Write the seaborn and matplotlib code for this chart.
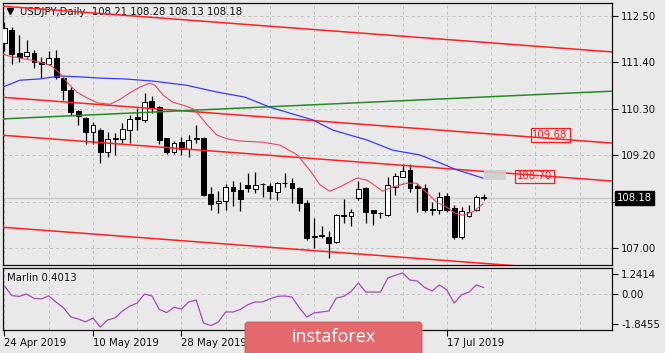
import numpy as np
import pandas as pd
import matplotlib
matplotlib.use("Agg")
import matplotlib.pyplot as plt
import matplotlib.transforms as mtransforms
from matplotlib.patches import FancyBboxPatch, Rectangle
import seaborn as sns

sns.set_theme(style="white")
plt.rcParams['font.family'] = ['DejaVu Sans']

# ---------------- data ----------------
opens = [111.86, 112.17, 111.62, 111.55, 111.62, 111.41, 111.36, 111.50, 111.03, 110.75,
         110.25, 110.08, 109.75, 109.80, 109.28, 109.58, 109.59, 109.80, 110.11, 110.04,
         110.49, 110.34, 109.61, 109.28, 109.51, 109.35, 109.58, 109.61, 108.28, 108.07,
         108.12, 108.45, 108.38, 108.50, 108.40, 108.52, 108.47, 108.33, 108.54, 108.54,
         108.42, 108.07, 107.26, 107.29, 107.26, 107.14, 107.76, 107.76, 108.19, 108.42,
         107.90, 107.83, 107.78, 108.45, 108.69, 108.85, 108.47, 108.42, 107.90, 107.90,
         108.23, 107.95, 107.26, 107.76, 107.90, 108.21]
highs = [112.35, 112.24, 112.05, 111.93, 111.69, 111.53, 111.67, 111.69, 111.05, 110.82,
         110.27, 110.10, 109.99, 109.85, 109.75, 109.73, 109.96, 110.15, 110.32, 110.68,
         110.61, 110.37, 109.61, 109.54, 109.63, 109.68, 109.92, 109.63, 108.45, 108.35,
         108.52, 108.59, 108.57, 108.78, 108.80, 108.54, 108.54, 108.57, 108.78, 108.66,
         108.45, 108.14, 107.71, 107.52, 107.41, 107.81, 108.16, 107.93, 108.60, 108.45,
         107.90, 107.86, 108.69, 108.78, 109.00, 109.00, 108.54, 108.52, 108.09, 108.33,
         108.31, 108.02, 107.97, 108.02, 108.26, 108.28]
lows = [111.67, 111.36, 111.41, 111.50, 111.27, 111.03, 111.34, 111.00, 110.51, 110.15,
        109.92, 109.47, 109.47, 109.02, 109.16, 109.21, 109.49, 109.49, 109.80, 109.99,
        110.20, 109.47, 109.23, 109.23, 109.21, 109.16, 109.49, 108.23, 107.90, 107.83,
        107.90, 108.00, 107.88, 108.33, 108.31, 108.21, 108.16, 108.14, 108.45, 108.07,
        107.88, 107.19, 107.00, 107.24, 106.77, 107.12, 107.59, 107.52, 108.14, 107.59,
        107.55, 107.71, 107.76, 108.26, 108.69, 108.33, 107.86, 107.86, 107.78, 107.81,
        107.86, 107.21, 107.21, 107.74, 107.88, 108.13]
closes = [112.21, 111.60, 111.53, 111.65, 111.41, 111.36, 111.50, 111.05, 110.75, 110.22,
          110.13, 109.75, 109.92, 109.28, 109.59, 109.60, 109.82, 110.06, 110.06, 110.46,
          110.34, 109.56, 109.28, 109.49, 109.35, 109.56, 109.60, 108.26, 108.05, 108.12,
          108.45, 108.35, 108.16, 108.42, 108.50, 108.53, 108.35, 108.54, 108.55, 108.42,
          108.07, 107.24, 107.28, 107.31, 107.12, 107.78, 107.78, 107.86, 108.40, 107.86,
          107.83, 107.84, 108.50, 108.71, 108.83, 108.42, 108.42, 107.90, 107.92, 108.21,
          107.90, 107.26, 107.88, 107.86, 108.21, 108.18]

slow_ma_bar = [-0.2, 2.1, 4.8, 7.5, 10.2, 12.9, 16.3, 20.1, 24.7, 28.8, 32.6, 36.0,
               41.8, 44.5, 49.2, 52.7, 56.3, 59.1, 61.1, 64.9]
slow_ma_val = [110.82, 110.98, 111.01, 111.08, 111.06, 111.03, 111.01, 110.96, 110.86,
               110.70, 110.58, 110.34, 110.04, 109.80, 109.56, 109.32, 109.21, 109.02,
               108.87, 108.66]

fast_ma_bar = [-0.6, 0.7, 3.5, 6.2, 7.5, 8.6, 9.8, 11.2, 12.7, 14.3, 15.7, 17.0, 18.4,
               19.7, 20.4, 21.5, 22.8, 24.2, 25.6, 26.2, 27.5, 28.8, 30.2, 31.9, 35.1,
               37.4, 39.7, 41.4, 42.8, 44.1, 45.5, 47.8, 49.2, 51.3, 52.7, 54.6, 55.9,
               57.3, 58.6, 60.0, 61.1, 62.2, 63.5, 64.9]
fast_ma_val = [111.62, 111.55, 111.46, 111.34, 111.15, 110.91, 110.70, 110.56, 110.44,
               110.41, 110.53, 110.68, 110.82, 110.91, 110.86, 110.63, 110.46, 110.39,
               110.30, 110.20, 109.92, 109.68, 109.59, 109.54, 109.51, 109.44, 109.21,
               108.85, 108.50, 108.35, 108.45, 108.66, 108.61, 108.35, 108.45, 108.54,
               108.54, 108.31, 108.09, 107.97, 107.83, 107.78, 107.86, 108.05]

marlin = [0.50, -0.10, -0.15, 0.00, -0.27, -0.30, -0.12, -0.50, -0.85, -1.42,
          -1.54, -1.72, -1.48, -2.04, -1.60, -1.48, -1.05, -0.75, -0.56, 0.00,
          -0.12, -0.95, -1.15, -0.82, -0.93, -0.49, -0.37, -1.79, -1.95, -1.73,
          -1.11, -1.11, -0.95, -0.66, -0.49, -0.49, -0.30, -0.15, -0.12, -0.19,
          -0.85, -1.42, -1.17, -1.11, -1.05, -0.25, -0.15, 0.15, 0.68, 0.12,
          0.12, 0.12, 0.99, 1.15, 1.30, 0.86, 0.80, 0.40, 0.19, 0.56,
          0.25, -0.56, -0.05, 0.12, 0.56, 0.40]

channel_bars = [-0.6, 82.4]
channel_top = [112.74, 111.65]
channel_upper = [110.58, 109.49]
channel_lower = [109.68, 108.59]
channel_bottom = [107.50, 106.41]
green_trend = [110.06, 110.72]

price_ticks = [112.50, 111.40, 110.30, 109.20, 108.10, 107.00]
marlin_ticks = [1.2414, 0.0, -1.8455]
marlin_tick_labels = ["1.2414", "0.00", "-1.8455"]
date_tick_bars = [0, 12, 24, 36, 48, 60]
date_labels = ["24 Apr 2019", "10 May 2019", "28 May 2019", "13 Jun 2019",
               "1 Jul 2019", "17 Jul 2019"]
level_values = [109.68, 108.70]
last_price = 108.18
title_text = "USDJPY,Daily  108.21 108.28 108.13 108.18"
marlin_text = "Marlin 0.4013"
watermark = "instaforex"

# ---------------- styling ----------------
BG = "#e9e9e9"
GRID = "#c2c2c2"
FS = 7.3
W, H = 665, 353

fig = plt.figure(figsize=(W / 100, H / 100), dpi=100, facecolor=BG)


def frac(l, t, r, b):
    return [l / W, 1 - b / H, (r - l) / W, (b - t) / H]


ax = fig.add_axes(frac(3, 3, 612, 265))
axm = fig.add_axes(frac(3, 268, 612, 330))
XL = (-0.2, 82.4)

for a in (ax, axm):
    a.set_facecolor(BG)
    a.set_xlim(*XL)
    for s in a.spines.values():
        s.set_color("#111111")
        s.set_linewidth(0.9)
    for g in np.arange(0, 83, 6):
        a.axvline(g, color=GRID, lw=0.7, ls=(0, (3, 3)), zorder=0.5)

ax.set_ylim(106.60, 112.81)
axm.set_ylim(-2.222, 1.605)

# grid main
for p in price_ticks:
    ax.axhline(p, color=GRID, lw=0.7, ls=(0, (3, 3)), zorder=0.5)
axm.axhline(0.0, color=GRID, lw=0.7, ls=(0, (3, 3)), zorder=0.5)

# bid line
ax.axhline(last_price, color="#c9c9c9", lw=1.0, zorder=1)

# candles
idx = np.arange(len(opens))
o = np.array(opens); c = np.array(closes); h = np.array(highs); l = np.array(lows)
ax.vlines(idx, l, h, color="black", lw=0.9, zorder=2.5)
bottoms = np.minimum(o, c)
heights = np.maximum(np.abs(c - o), 0.008)
colors = ["white" if cc >= oo else "black" for oo, cc in zip(o, c)]
ax.bar(idx, heights, bottom=bottoms, width=0.66, color=colors, edgecolor="black",
       linewidth=0.7, zorder=3)

# trend lines
for vals, col in [(channel_top, "#ff2020"), (channel_upper, "#ff2020"),
                  (channel_lower, "#ff2020"), (channel_bottom, "#ff2020"),
                  (green_trend, "#2a8a2a")]:
    sns.lineplot(x=channel_bars, y=vals, ax=ax, color=col, lw=1.1, zorder=4,
                 legend=False, estimator=None, sort=False)

sns.lineplot(x=slow_ma_bar, y=slow_ma_val, ax=ax, color="#3b3bf5", lw=0.9, zorder=4,
             legend=False, estimator=None, sort=False)
sns.lineplot(x=fast_ma_bar, y=fast_ma_val, ax=ax, color="#e3485f", lw=0.8, zorder=4,
             legend=False, estimator=None, sort=False)

# gray label block
ax.add_patch(Rectangle((65.0, 108.62), 3.0, 0.24, facecolor="#cfcfcf",
                       edgecolor="none", alpha=0.9, zorder=5))

# level labels
for v, xb in zip(level_values, [74.0, 71.9]):
    ax.text(xb, v, f"{v:.2f}", color="#ff1a1a", fontsize=FS, ha="center",
            va="center", zorder=6,
            bbox=dict(boxstyle="square,pad=0.18", fc="none", ec="#ff1a1a", lw=0.9))

# axes ticks main (the 108.10 label sits under the current-price box)
ax.set_xticks([])
ax.yaxis.tick_right()
ax.set_yticks(price_ticks)
ax.set_yticklabels(["" if abs(p - last_price) < 0.2 else f"{p:.2f}" for p in price_ticks])
ax.tick_params(axis="y", direction="out", length=4, width=0.8, pad=2.5,
               labelsize=FS, colors="#111111", right=True, left=False)
ax.set_xlabel(""); ax.set_ylabel("")

# current price box
trans = mtransforms.blended_transform_factory(ax.transAxes, ax.transData)
ax.text(1.0085, last_price, f"{last_price:.2f}", transform=trans, color="white",
        fontsize=FS, ha="left", va="center", clip_on=False, zorder=10,
        bbox=dict(boxstyle="square,pad=0.2", fc="black", ec="black"))

# title
ax.plot([(10 - 3) / 609], [(265 - 11) / 262], marker="v", ms=4.2, color="black",
        transform=ax.transAxes, clip_on=False)
ax.text((20 - 3) / 609, (265 - 12) / 262, title_text, transform=ax.transAxes,
        fontsize=FS, ha="left", va="center", color="#111111")

# marlin panel
sns.lineplot(x=idx, y=marlin, ax=axm, color="#a64cb6", lw=0.9, zorder=4,
             legend=False, estimator=None, sort=False)
axm.yaxis.tick_right()
axm.set_yticks(marlin_ticks)
axm.set_yticklabels(marlin_tick_labels)
axm.set_xticks(date_tick_bars)
# labels covered by the watermark in the reference are left blank
hidden = {"13 Jun 2019", "1 Jul 2019"}
axm.set_xticklabels(["" if d in hidden else d for d in date_labels])
for lbl in axm.get_xticklabels():
    lbl.set_horizontalalignment("left")
axm.tick_params(axis="y", direction="out", length=4, width=0.8, pad=2.5,
                labelsize=FS, colors="#111111", right=True, left=False)
axm.tick_params(axis="x", direction="out", length=4, width=0.8, pad=1.5,
                labelsize=FS, colors="#111111", bottom=True)
axm.set_xlabel(""); axm.set_ylabel("")
axm.text((7 - 3) / 609, (330 - 278) / 62, marlin_text, transform=axm.transAxes,
         fontsize=FS, ha="left", va="center", color="#111111")

# watermark
wm = FancyBboxPatch((2.45, -0.06), 1.77, 0.37,
                    boxstyle="round,pad=0,rounding_size=0.03",
                    transform=fig.dpi_scale_trans, facecolor="#e3696d",
                    edgecolor="#c95458", lw=0.6, zorder=20)
fig.add_artist(wm)
fig.text(333.5 / W, 1 - 337 / H, watermark, color="white", fontsize=13,
         ha="center", va="center", family=["Open Sans", "DejaVu Sans"], zorder=21)

fig.savefig("out.png", dpi=100, facecolor=BG)
